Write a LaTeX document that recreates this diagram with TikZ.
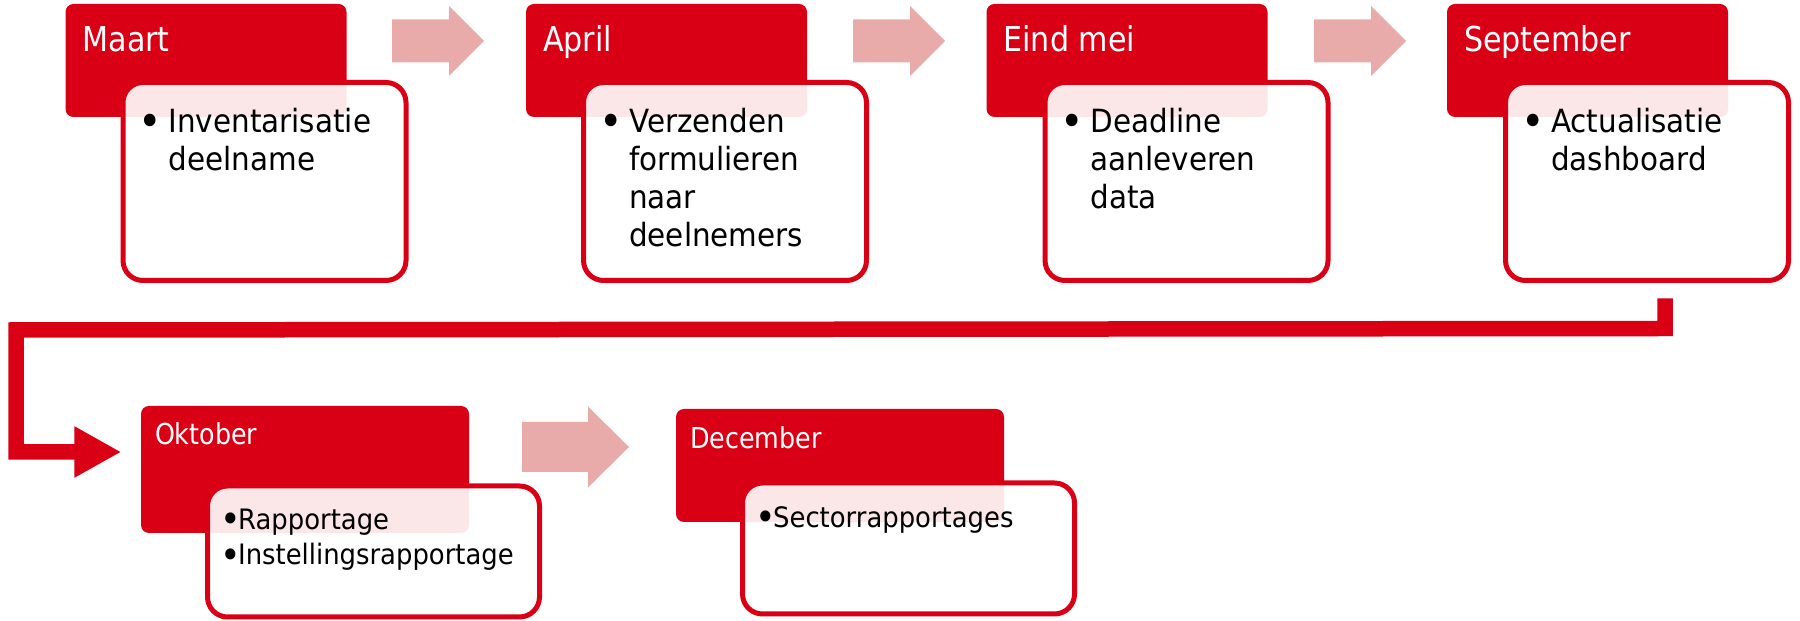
\documentclass[tikz,border=0pt]{standalone}
\usepackage{fontspec}
\setmainfont{DejaVu Sans}
\newfontfamily\kopfont{DejaVu Sans}[FakeStretch=0.88]
\newfontfamily\tekstfont{DejaVu Sans}[FakeStretch=0.92]
\usetikzlibrary{arrows.meta}
\definecolor{rood}{RGB}{217,0,21}
\definecolor{roze}{RGB}{233,170,170}
\newcommand\stip{\makebox[0.55em][c]{\raisebox{-0.12em}{\scalebox{1.35}{\textbullet}}}}
\tikzset{
	kop/.style={fill=rood,rounded corners=0.8mm,inner sep=0,minimum width=28.1mm,minimum height=11.3mm},
	blok/.style={draw=rood,line width=0.5mm,fill=white,fill opacity=0.9,rounded corners=2mm,inner sep=0,minimum width=28.3mm,minimum height=19.8mm},
	koptekst/.style={anchor=base west,inner sep=0,text=white,font=\kopfont\fontsize{9.75pt}{11pt}\selectfont},
	bloktekst/.style={anchor=base west,inner sep=0,align=left,font=\tekstfont\fontsize{9.1pt}{10.8pt}\selectfont},
	pijl/.style={fill=roze},
	lijn/.style={draw=rood,line width=1.55mm,line join=miter}
}

\begin{document}
\begin{tikzpicture}[x=0.1mm,y=-0.1mm]
	\useasboundingbox (0,0) rectangle (1800,621);
	\node[kop] (maartKop) at (206,60.5) {};
	\node[kop] (aprilKop) at (666.5,60.5) {};
	\node[kop] (meiKop) at (1127,60.5) {};
	\node[kop] (sepKop) at (1587.5,60.5) {};
	\node[kop,minimum width=32.8mm,minimum height=12.7mm] (oktKop) at (305,469.5) {};
	\node[kop,minimum width=32.8mm] (decKop) at (840,465.5) {};
	\fill[pijl,shift={(392,41)}] (0,-21.5) -- (57,-21.5) -- (57,-35) -- (92,0) -- (57,35) -- (57,21.5) -- (0,21.5) -- cycle;
	\fill[pijl,shift={(853,41)}] (0,-21.5) -- (57,-21.5) -- (57,-35) -- (92,0) -- (57,35) -- (57,21.5) -- (0,21.5) -- cycle;
	\fill[pijl,shift={(1314,41)}] (0,-21.5) -- (57,-21.5) -- (57,-35) -- (92,0) -- (57,35) -- (57,21.5) -- (0,21.5) -- cycle;
	\fill[pijl,shift={(522,447)}] (0,-25) -- (66,-25) -- (66,-40.5) -- (107,0) -- (66,40.5) -- (66,25) -- (0,25) -- cycle;
	\node[blok] (maartBlok) at (264.5,181.5) {};
	\node[blok] (aprilBlok) at (725,181.5) {};
	\node[blok] (meiBlok) at (1186.5,181.5) {};
	\node[blok] (sepBlok) at (1647,181.5) {};
	\node[blok,minimum width=33.2mm,minimum height=13.1mm] (oktBlok) at (373.5,551.5) {};
	\node[blok,minimum width=33.2mm,minimum height=13.1mm] (decBlok) at (908.5,548.5) {};
	\node[koptekst] (maartTxt) at ([shift={(17,48)}]maartKop.north west) {Maart};
	\node[koptekst] (aprilTxt) at ([shift={(17,48)}]aprilKop.north west) {April};
	\node[koptekst] (meiTxt) at ([shift={(17,48)}]meiKop.north west) {Eind mei};
	\node[koptekst] (sepTxt) at ([shift={(17,48)}]sepKop.north west) {September};
	\node[koptekst,font=\kopfont\fontsize{8.2pt}{10pt}\selectfont] (oktTxt) at ([shift={(14,39)}]oktKop.north west) {Oktober};
	\node[koptekst,font=\kopfont\fontsize{8.2pt}{10pt}\selectfont] (decTxt) at ([shift={(14,40)}]decKop.north west) {December};
	\node[bloktekst] (maartLijst) at ([shift={(20.5,90.5)}]maartBlok.north west) {\stip\ Inventarisatie\\\phantom{\stip\ }deelname};
	\node[bloktekst] (aprilLijst) at ([shift={(20.5,166.5)}]aprilBlok.north west) {\stip\ Verzenden\\\phantom{\stip\ }formulieren\\\phantom{\stip\ }naar\\\phantom{\stip\ }deelnemers};
	\node[bloktekst] (meiLijst) at ([shift={(20.5,128.5)}]meiBlok.north west) {\stip\ Deadline\\\phantom{\stip\ }aanleveren\\\phantom{\stip\ }data};
	\node[bloktekst] (sepLijst) at ([shift={(20.5,90.5)}]sepBlok.north west) {\stip\ Actualisatie\\\phantom{\stip\ }dashboard};
	\node[bloktekst,font=\tekstfont\fontsize{8pt}{10.2pt}\selectfont] (oktLijst) at ([shift={(17,81.5)}]oktBlok.north west) {\stip Rapportage\\\stip Instellingsrapportage};
	\node[bloktekst,font=\tekstfont\fontsize{8pt}{10.2pt}\selectfont] (decLijst) at ([shift={(17,46.5)}]decBlok.north west) {\stip Sectorrapportages};
	\coordinate (start) at ([xshift=1.8mm,yshift=-1.55mm]sepBlok.south);
	\coordinate (eind) at ([xshift=-1.9mm,yshift=1.75mm]oktKop.west);
	\draw[lijn,-{Triangle[length=4.7mm,width=4.8mm]}] (start) -- ++(0,30) -- (16,330) -- (16,452) -- (eind);
\end{tikzpicture}
\end{document}
